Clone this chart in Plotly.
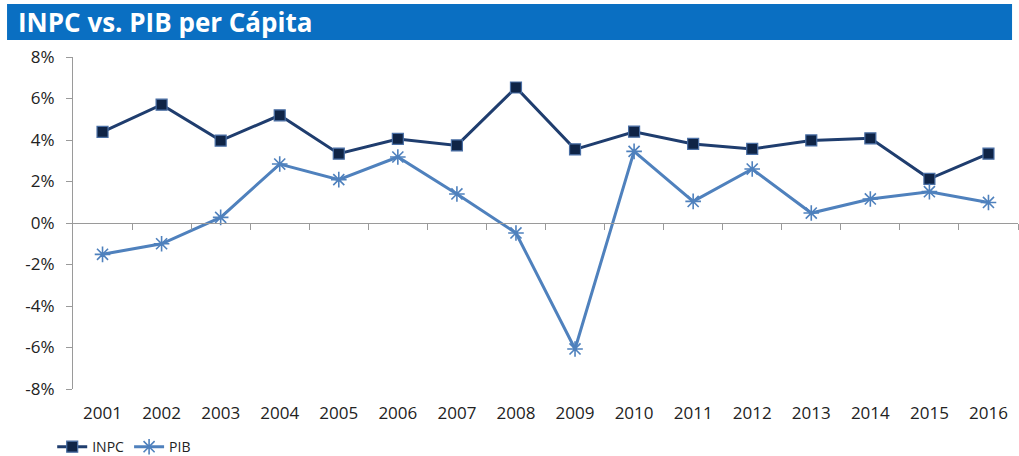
import plotly.graph_objects as go

years = ["2001", "2002", "2003", "2004", "2005", "2006", "2007", "2008",
         "2009", "2010", "2011", "2012", "2013", "2014", "2015", "2016"]
inpc = [4.39, 5.70, 3.97, 5.19, 3.34, 4.05, 3.74, 6.53,
        3.55, 4.40, 3.81, 3.57, 3.98, 4.08, 2.13, 3.34]
pib = [-1.51, -1.00, 0.27, 2.84, 2.09, 3.18, 1.40, -0.48,
       -6.07, 3.45, 1.04, 2.60, 0.48, 1.16, 1.51, 0.99]
y_ticks = [-8, -6, -4, -2, 0, 2, 4, 6, 8]
y_labels = [f"{v}%" for v in y_ticks]

title_text = "INPC vs. PIB per Cápita"

xi = list(range(len(years)))
font_family = "Open Sans, Lato, sans-serif"

fig = go.Figure()
fig.add_trace(go.Scatter(
    x=xi, y=inpc, name="INPC", mode="lines+markers",
    line=dict(color="#1F3D6E", width=3),
    marker=dict(symbol="square", size=11, color="#0F2446",
                line=dict(color="#4A6FA5", width=1.2)),
))
fig.add_trace(go.Scatter(
    x=xi, y=pib, name="PIB", mode="lines+markers",
    line=dict(color="#4F81BD", width=3),
    marker=dict(symbol="asterisk-open", size=13, color="#4F81BD",
                line=dict(color="#4F81BD", width=1.6)),
))
# invisible trace so the zero-line axis renders
fig.add_trace(go.Scatter(x=[-0.5, len(years) - 0.5], y=[0, 0], xaxis="x2",
                         mode="lines", line=dict(width=0), showlegend=False,
                         hoverinfo="skip"))

fig.update_layout(
    width=1019, height=456,
    margin=dict(l=73, r=1, t=57, b=67, autoexpand=False),
    paper_bgcolor="white", plot_bgcolor="white",
    font=dict(family=font_family, color="#222222"),
    showlegend=True,
    legend=dict(orientation="h", x=-0.022, y=-0.175, xanchor="left",
                yanchor="middle", font=dict(size=14, color="#222222"),
                tracegroupgap=0, traceorder="normal"),
    xaxis=dict(range=[-0.5, len(years) - 0.5], tickmode="array", tickvals=xi,
               ticktext=years, showgrid=False, zeroline=False, showline=False,
               ticks="", tickfont=dict(size=17, color="#222222"),
               ticklabelstandoff=12, automargin=False),
    xaxis2=dict(range=[-0.5, len(years) - 0.5], overlaying="x", anchor="free",
                position=0.5, side="bottom", showgrid=False, zeroline=False,
                showline=True, linecolor="#9A9A9A", linewidth=1.3,
                tickmode="array", tickvals=[i + 0.5 for i in xi],
                ticks="outside", ticklen=6, tickcolor="#9A9A9A", tickwidth=1.3,
                showticklabels=False, automargin=False),
    yaxis=dict(range=[-8, 8], tickmode="array", tickvals=y_ticks,
               ticktext=y_labels, showgrid=False, zeroline=False,
               showline=True, linecolor="#9A9A9A", linewidth=1.3,
               ticks="outside", ticklen=6, tickcolor="#9A9A9A", tickwidth=1.3,
               tickfont=dict(size=17, color="#222222"), ticklabelstandoff=8,
               automargin=False),
)

fig.add_shape(type="rect", xref="paper", yref="paper",
              x0=-0.0698, x1=0.9937, y0=1.0512, y1=1.1596,
              fillcolor="#0A6FC2", line=dict(width=0), layer="below")
fig.add_annotation(text=f"<b>{title_text}</b>", xref="paper", yref="paper",
                   x=-0.0603, y=1.1054, xanchor="left", yanchor="middle",
                   showarrow=False, font=dict(size=26, color="white",
                                              family=font_family))

fig.write_html("out.html", config={"displayModeBar": False},
               post_script="document.body.style.margin='0';"
                           "document.body.style.overflow='hidden';")
